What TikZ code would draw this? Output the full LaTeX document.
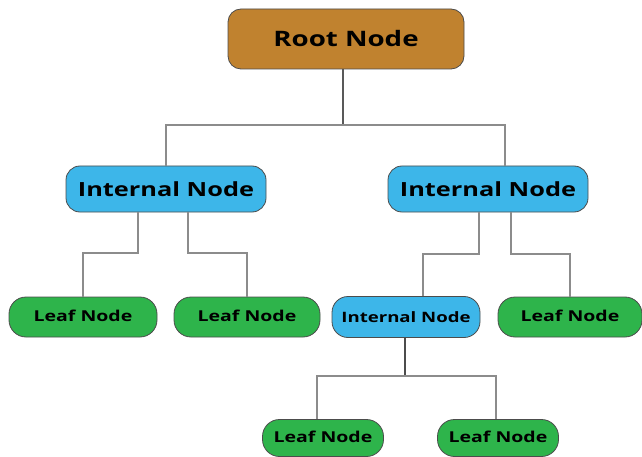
\documentclass[tikz,border=0pt]{standalone}
\usepackage{fontspec}
\setmainfont{Open Sans}
\newfontfamily\wideface{Open Sans}[FakeStretch=1.3]
\usepackage{xcolor}
\usetikzlibrary{positioning, calc}

\definecolor{rootbrown}{HTML}{C0822F}
\definecolor{innerblue}{HTML}{3DB6E9}
\definecolor{leafgreen}{HTML}{2EB44B}

\begin{document}
\begin{tikzpicture}[
        x=1pt, y=-1pt,
        box/.style = {draw=black!70, line width=0.8pt, align=center, inner sep=0pt},
        rootbox/.style = {box, fill=rootbrown, minimum width=236pt, minimum height=60pt, rounded corners=13pt, font=\wideface\fontsize{21.3}{24}\selectfont\bfseries},
        innerbox/.style = {box, fill=innerblue, minimum width=200pt, minimum height=46pt, rounded corners=14pt, font=\wideface\fontsize{19.5}{22}\selectfont\bfseries},
        smallinner/.style = {box, fill=innerblue, minimum width=148pt, minimum height=41pt, rounded corners=16pt, font=\wideface\fontsize{14.3}{17}\selectfont\bfseries},
        leafbox/.style = {box, fill=leafgreen, minimum width=148pt, minimum height=40pt, rounded corners=17pt, text depth=2pt, font=\wideface\fontsize{15}{18}\selectfont\bfseries},
        lowleaf/.style = {leafbox, minimum width=121pt, minimum height=37pt},
        link/.style = {draw=black!45, line width=1.3pt}
    ]
    \useasboundingbox (0,0) rectangle (642,457);

    % nodes
    \node[rootbox] (root) at (346,39) {Root Node};
    \node[innerbox] (inA) at (166,189) {Internal Node};
    \node[innerbox] (inB) at (488,189) {Internal Node};
    \node[leafbox] (leafA) at (83,317) {Leaf Node};
    \node[leafbox, minimum width=146pt] (leafB) at (247,317) {Leaf Node};
    \node[smallinner] (inC) at (406,317) {Internal Node};
    \node[leafbox, minimum width=144pt] (leafC) at (570,317) {Leaf Node};
    \node[lowleaf] (leafD) at (323,438) {Leaf Node};
    \node[lowleaf] (leafE) at (498,438) {Leaf Node};

    % junctions
    \coordinate (jRoot) at (343,125);
    \coordinate (jA1) at (138,253);
    \coordinate (jA2) at (188,253);
    \coordinate (jB1) at (479,254);
    \coordinate (jB2) at (511,254);
    \coordinate (jC) at (405,376);

    % connectors
    \draw[link, black!65] (root.south -| jRoot) -- (jRoot);
    \draw[link] (inA.north) |- (jRoot) -| ([xshift=17pt]inB.north);
    \draw[link] (inA.south -| jA1) -- (jA1) -| (leafA.north);
    \draw[link] (inA.south -| jA2) -- (jA2) -| (leafB.north);
    \draw[link] (inB.south -| jB1) -- (jB1) -| ([xshift=17pt]inC.north);
    \draw[link] (inB.south -| jB2) -- (jB2) -| (leafC.north);
    \draw[link, black!70] (inC.south -| jC) -- (jC);
    \draw[link] ([xshift=-6pt]leafD.north) |- (jC) -| ([xshift=-2pt]leafE.north);
\end{tikzpicture}
\end{document}
